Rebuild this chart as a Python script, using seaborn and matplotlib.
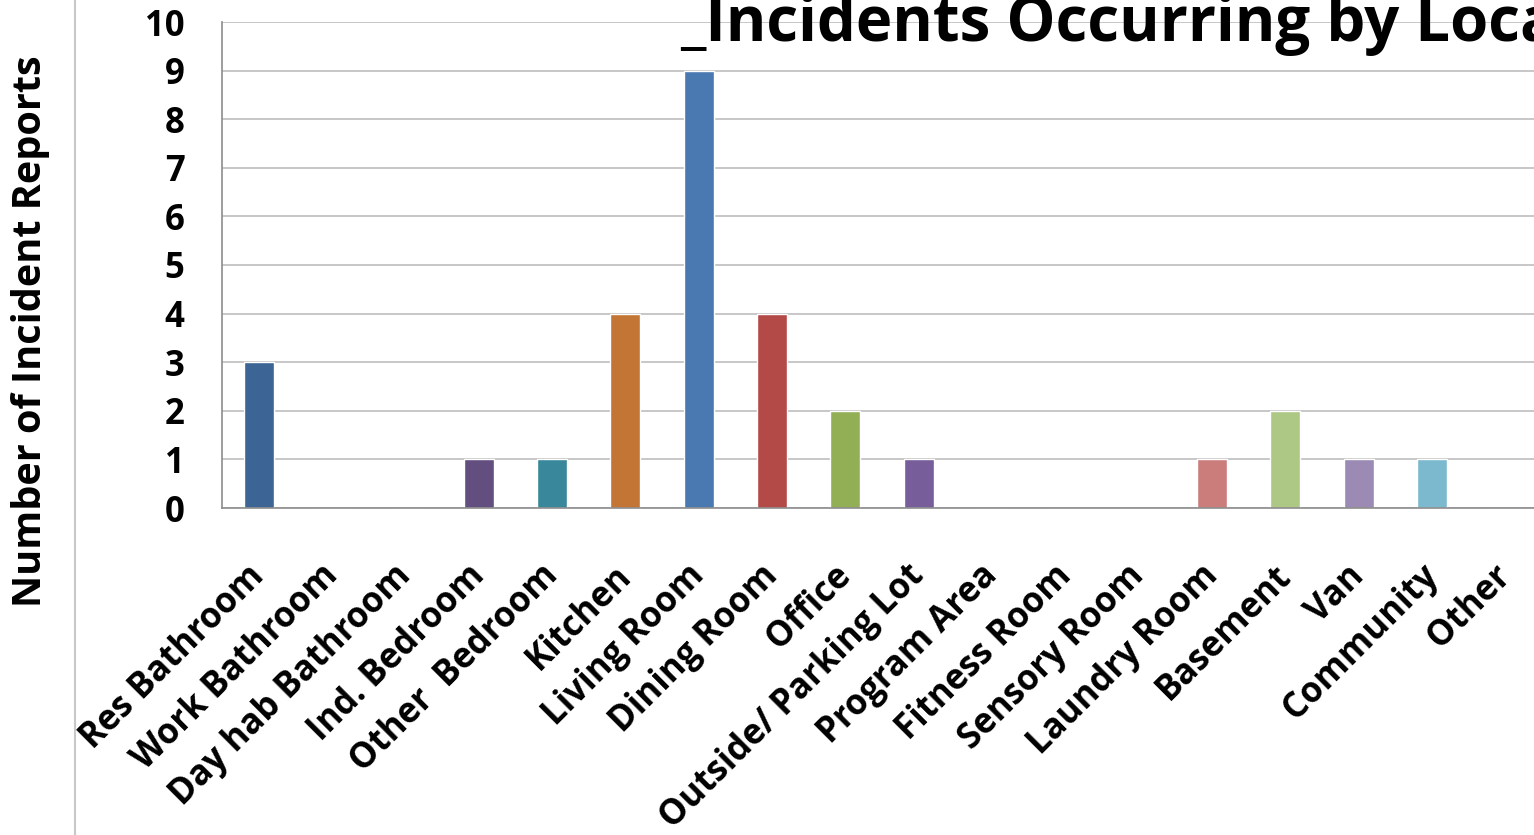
import numpy as np
import pandas as pd
import matplotlib.pyplot as plt
import seaborn as sns
from matplotlib.lines import Line2D
from matplotlib.transforms import ScaledTranslation

# chart data
locations = ['Res Bathroom', 'Work Bathroom', 'Day hab Bathroom', 'Ind. Bedroom',
             'Other  Bedroom', 'Kitchen', 'Living Room', 'Dining Room', 'Office',
             'Outside/ Parking Lot', 'Program Area', 'Fitness Room', 'Sensory Room',
             'Laundry Room', 'Basement', 'Van', 'Community', 'Other']
reports = [3, 0, 0, 1, 1, 4, 9, 4, 2, 1, 0, 0, 0, 1, 2, 1, 1, 0]
bar_colors = ['#3C6495', '#9E3F3C', '#7A9A45', '#634E80', '#38879A', '#C27534',
              '#4A78B0', '#B44A47', '#92AF55', '#775E9A', '#3FA0B8', '#E08A3C',
              '#6F8FC0', '#CB7D7C', '#ADC785', '#9B8AB3', '#7CB9CF', '#F4B183']
y_ticks = list(range(0, 11))

df = pd.DataFrame({'Location': locations, 'Reports': reports})

sns.set_style('white')
plt.rcParams['font.family'] = ['Open Sans', 'DejaVu Sans']
plt.rcParams['text.color'] = 'black'
plt.rcParams['xtick.color'] = 'black'
plt.rcParams['ytick.color'] = 'black'

fig = plt.figure(figsize=(15.34, 8.35), dpi=100)
ax = fig.add_axes([222 / 1534, 327 / 835, 1320 / 1534, 486 / 835])

sns.barplot(data=df, x='Location', y='Reports', hue='Location',
            palette=dict(zip(locations, bar_colors)), legend=False,
            width=0.41, saturation=1, ax=ax)

ax.set_xlim(-0.5, len(locations) - 0.5)
ax.set_ylim(0, 10)
ax.set_yticks(y_ticks)
ax.yaxis.grid(True, color='#BDBDBD', linewidth=1.2)
ax.set_axisbelow(True)

for s in ['top', 'right']:
    ax.spines[s].set_visible(False)
for s in ['left', 'bottom']:
    ax.spines[s].set_color('#8C8C8C')
    ax.spines[s].set_linewidth(1.2)

# category boundary ticks, labels at centres
ax.set_xticks(np.arange(-0.5, len(locations), 1), minor=True)
ax.tick_params(axis='x', which='minor', length=10, color='#A0A0A0', width=1.2)
ax.tick_params(axis='x', which='major', length=0, pad=36)
ax.tick_params(axis='y', length=10, color='#A0A0A0', width=1.2, pad=17)
ax.set_xticks(range(len(locations)))
ax.set_xticklabels(locations, rotation=45, ha='right', rotation_mode='anchor',
                   fontsize=25, fontweight='bold')
shift = ScaledTranslation(-12 / 100, 0, fig.dpi_scale_trans)
for lab in ax.get_xticklabels():
    lab.set_transform(lab.get_transform() + shift)
for lab in ax.get_yticklabels():
    lab.set_fontsize(25)
    lab.set_fontweight('bold')

ax.set_xlabel('')
ax.set_ylabel('')

fig.text(31 / 1534, 1 - 331 / 835, 'Number of Incident Reports', rotation=90,
         ha='center', va='center', fontsize=28.5, fontweight='bold')
fig.text(680 / 1534, 1 - 41 / 835, '_Incidents Occurring by Location',
         ha='left', va='baseline', fontsize=44.5, fontweight='bold')

fig.add_artist(Line2D([75 / 1534, 75 / 1534], [0, 1], color='#C8C8C8', linewidth=1.5))

fig.savefig('out.png', dpi=100)
